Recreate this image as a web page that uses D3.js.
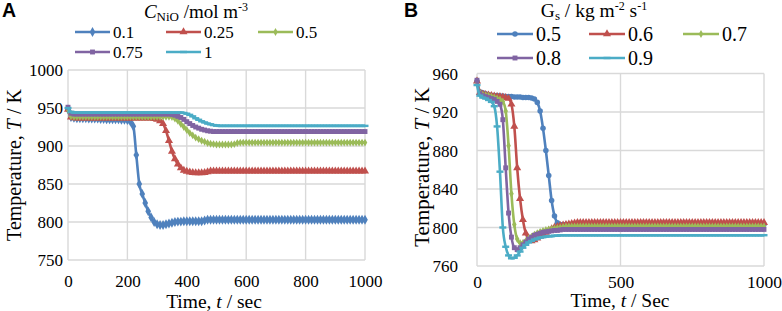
<!DOCTYPE html>
<html><head><meta charset="utf-8">
<script src="https://cdn.jsdelivr.net/npm/d3@7/dist/d3.min.js"></script>
<style>body{margin:0;background:#fff}svg{display:block}</style>
</head><body><svg id="c" width="782" height="311"></svg>
<script>
// time samples (s)
const timeSec = [0,10,20,30,40,50,60,70,80,90,100,110,120,130,140,150,160,170,180,190,200,210,220,230,240,250,260,270,280,290,300,310,320,330,340,350,360,370,380,390,400,410,420,430,440,450,460,470,480,490,500,510,520,530,540,550,560,570,580,590,600,610,620,630,640,650,660,670,680,690,700,710,720,730,740,750,760,770,780,790,800,810,820,830,840,850,860,870,880,890,900,910,920,930,940,950,960,970,980,990,1000];

// Panel A : C_NiO series
const namesA = ["0.1","0.25","0.5","0.75","1"];
const tempA01 = [948,938,937,936.5,936.5,936.5,936.5,936,936,936,
936,935.5,935.5,935,935,935,935,935,934.5,934.5,
934,932,926,888,850,837,825,814,806,800,
797,796,796,797,798,799,800,800.5,800.5,801,
801,801,801,801,801,801,802,803,803,803,
803,803,803,803,803,803,803,803,803,803,
803,803,803,803,803,803,803,803,803,803,
803,803,803,803,803,803,803,803,803,803,
803,803,803,803,803,803,803,803,803,803,
803,803,803,803,803,803,803,803,803,803,
803];
const tempA025 = [948,938,937,936.5,936.5,936.5,936.5,936.5,936.5,936.5,
936.5,936.5,936.5,936.5,936.5,936.5,936.5,936.5,936.5,936.5,
936.5,936.5,936.5,936.5,936.5,936.5,936.5,936.5,936.5,936,
935,933,929.5,920,907,893,883,876,871,868,
866.5,865.5,865,864.5,864.5,864.5,865,866,867,867,
867,867,867,867,867,867,867,867,867,867,
867,867,867,867,867,867,867,867,867,867,
867,867,867,867,867,867,867,867,867,867,
867,867,867,867,867,867,867,867,867,867,
867,867,867,867,867,867,867,867,867,867,
867];
const tempA05 = [948,939,938.5,938.5,938.5,938.5,938.5,938.5,938.5,938.5,
938.5,938.5,938.5,938.5,938.5,938.5,938.5,938.5,938.5,938.5,
938.5,938.5,938.5,938.5,938.5,938.5,938.5,938.5,938.5,938.5,
938.5,938.5,938.5,938.5,938.5,938,936,933,929,925,
921,917,914,911,909,907,905.5,904,903,902.5,
902,902,902,902,902,902,902.5,904,904.5,904.5,
904.5,904.5,904.5,904.5,904.5,904.5,904.5,904.5,904.5,904.5,
904.5,904.5,904.5,904.5,904.5,904.5,904.5,904.5,904.5,904.5,
904.5,904.5,904.5,904.5,904.5,904.5,904.5,904.5,904.5,904.5,
904.5,904.5,904.5,904.5,904.5,904.5,904.5,904.5,904.5,904.5,
904.5];
const tempA075 = [951,943,942,942,942,942,942,942,942,942,
942,942,942,942,942,942,942,942,942,942,
942,942,942,942,942,942,942,942,942,942,
942,942,942,942,942,941.5,940.5,939,937.5,935,
932,929.5,927,925,923.5,922,921,920,919.5,919,
919,919,919,919,919,919,919,919,919,919,
919,919,919,919,919,919,919,919,919,919,
919,919,919,919,919,919,919,919,919,919,
919,919,919,919,919,919,919,919,919,919,
919,919,919,919,919,919,919,919,919,919,
919];
const tempA1 = [950,945,944,944,944,944,944,944,944,944,
944,944,944,944,944,944,944,944,944,944,
944,944,944,944,944,944,944,944,944,944,
944,944,944,944,944,944,944,944,944,943.5,
942.5,941,939,936.5,934.5,932.5,931,929.5,928.5,927.5,
927,926.5,926.5,926.5,926.5,926.5,926.5,926.5,926.5,926.5,
926.5,926.5,926.5,926.5,926.5,926.5,926.5,926.5,926.5,926.5,
926.5,926.5,926.5,926.5,926.5,926.5,926.5,926.5,926.5,926.5,
926.5,926.5,926.5,926.5,926.5,926.5,926.5,926.5,926.5,926.5,
926.5,926.5,926.5,926.5,926.5,926.5,926.5,926.5,926.5,926.5,
926.5];

// Panel B : Gs series
const namesB = ["0.5","0.6","0.7","0.8","0.9"];
const tempB05 = [952,941,940,939,938,937.5,937,937,936.5,936.5,
936,936,936,935.5,935.5,935.5,935,935,935,934.5,
933.5,930,921,903,880,854,828,812,805,803,
803,803,803,803,803,803,803,803,803,803,
803,803,803,803,803,803,803,803,803,803,
803,803,803,803,803,803,803,803,803,803,
803,803,803,803,803,803,803,803,803,803,
803,803,803,803,803,803,803,803,803,803,
803,803,803,803,803,803,803,803,803,803,
803,803,803,803,803,803,803,803,803,803,
803];
const tempB06 = [952,940,938.5,938,937.5,937,936.5,936,936,935.5,
935,934,928,905,862,830,808,794,788,786,
787,789,791,793,795,797,798.5,800,801,802,
802.5,803,803.5,804,804.5,805,805,805,805,805,
805,805,805,805,805,805,805,805,805,805,
805,805,805,805,805,805,805,805,805,805,
805,805,805,805,805,805,805,805,805,805,
805,805,805,805,805,805,805,805,805,805,
805,805,805,805,805,805,805,805,805,805,
805,805,805,805,805,805,805,805,805,805,
805];
const tempB07 = [952,940,938,937.5,937,936,935,934,933,931,
921,885,835,803,788,784,784,786,788.5,790.5,
792.5,794,795.5,796.5,797.5,798,798.5,799,799.5,800,
800.5,801,801,801,801,801,801,801,801,801,
801,801,801,801,801,801,801,801,801,801,
801,801,801,801,801,801,801,801,801,801,
801,801,801,801,801,801,801,801,801,801,
801,801,801,801,801,801,801,801,801,801,
801,801,801,801,801,801,801,801,801,801,
801,801,801,801,801,801,801,801,801,801,
801];
const tempB08 = [953,939,937,936,935,934,933,931,928,912,
862,815,790,779,777,779,782,785,788,790,
792,793,794,795,795.5,796,796.5,797,797,797.5,
798,798,798,798,798,798,798,798,798,798,
798,798,798,798,798,798,798,798,798,798,
798,798,798,798,798,798,798,798,798,798,
798,798,798,798,798,798,798,798,798,798,
798,798,798,798,798,798,798,798,798,798,
798,798,798,798,798,798,798,798,798,798,
798,798,798,798,798,798,798,798,798,798,
798];
const tempB09 = [948,937,935,934,932.5,930.5,926,905,858,800,
780,771,768,768.5,771,775,779,782,784.5,786,
787.5,788.5,789.5,790,790.5,791,791,791.5,791.5,792,
792,792,792,792,792,792,792,792,792,792,
792,792,792,792,792,792,792,792,792,792,
792,792,792,792,792,792,792,792,792,792,
792,792,792,792,792,792,792,792,792,792,
792,792,792,792,792,792,792,792,792,792,
792,792,792,792,792,792,792,792,792,792,
792,792,792,792,792,792,792,792,792,792,
792];

// ticks
const xTicksA = [0,200,400,600,800,1000];
const yTicksA = [750,800,850,900,950,1000];
const xTicksB = [0,500,1000];
const yTicksB = [760,800,840,880,920,960];

const colors = ["#4F81BD","#C0504D","#9BBB59","#8064A2","#4BACC6"];
const SERIF = '"Liberation Serif", "Times New Roman", Times, serif';
const SANS = '"Liberation Sans", Arial, sans-serif';

const svg = d3.select("#c");

function markerPath(kind){
  switch(kind){
    case "diamond": return d3.symbol(d3.symbolDiamond, 28)();
    case "circle": return d3.symbol(d3.symbolCircle, 24)();
    case "triangle": return d3.symbol(d3.symbolTriangle, 28)();
    case "square": return d3.symbol(d3.symbolSquare, 24)();
    case "dot": return d3.symbol(d3.symbolDiamond, 18)();
    case "dash": return "M-3.5,-1.2h7v2.4h-7z";
  }
}

function txt(sel){ return sel.style("font-family", SERIF).attr("fill", "#000"); }

function drawPanel(cfg){
  const g = svg.append("g");
  const x = d3.scaleLinear().domain(cfg.xDomain).range([cfg.x0, cfg.x1]);
  const y = d3.scaleLinear().domain(cfg.yDomain).range([cfg.yb, cfg.yt]);
  g.selectAll(".hg").data(cfg.yTicks).join("line")
    .attr("x1", cfg.x0).attr("x2", cfg.x1)
    .attr("y1", d => y(d)).attr("y2", d => y(d))
    .attr("stroke", "#d9d9d9").attr("stroke-width", 1.4);
  g.selectAll(".vg").data(cfg.xTicks).join("line")
    .attr("y1", cfg.yt).attr("y2", cfg.yb)
    .attr("x1", d => x(d)).attr("x2", d => x(d))
    .attr("stroke", "#d9d9d9").attr("stroke-width", 1.4);

  const ya = g.append("g").attr("transform", `translate(${cfg.yLabelX},0)`)
    .call(d3.axisLeft(y).tickValues(cfg.yTicks).tickSize(0).tickPadding(0).tickFormat(d3.format("d")));
  ya.select(".domain").remove();
  txt(ya.selectAll("text")).style("font-size", cfg.yTickSize + "px").attr("dy", "0.34em");

  const xa = g.append("g").attr("transform", `translate(0,${cfg.xLabelY})`)
    .call(d3.axisBottom(x).tickValues(cfg.xTicks).tickSize(0).tickPadding(0).tickFormat(d3.format("d")));
  xa.select(".domain").remove();
  txt(xa.selectAll("text")).style("font-size", cfg.xTickSize + "px").attr("dy", 0).attr("y", 0);

  const line = d3.line().x((d, i) => x(timeSec[i])).y(d => y(d)).curve(d3.curveMonotoneX);
  cfg.series.forEach((s, k) => {
    g.append("path").attr("d", line(s.values)).attr("fill", "none")
      .attr("stroke", colors[k]).attr("stroke-width", 2.6).attr("stroke-linejoin", "round");
    g.append("g").selectAll("path").data(s.values).join("path")
      .attr("d", markerPath(s.marker))
      .attr("transform", (d, i) => `translate(${x(timeSec[i])},${y(d)})`)
      .attr("fill", colors[k]);
  });

  // axis titles
  const xt = txt(g.append("text")).attr("x", cfg.xTitleX).attr("y", cfg.xTitleY)
    .attr("text-anchor", "middle").style("font-size", cfg.xTitleSize + "px");
  xt.append("tspan").text("Time, ");
  xt.append("tspan").style("font-style", "italic").text("t");
  xt.append("tspan").text(cfg.xTitleUnit);
  const yt = txt(g.append("text")).attr("transform", `translate(${cfg.yTitleX},${cfg.yTitleY}) rotate(-90)`)
    .attr("text-anchor", "middle").style("font-size", cfg.yTitleSize + "px");
  yt.append("tspan").text("Temperature, ");
  yt.append("tspan").style("font-style", "italic").text("T");
  yt.append("tspan").text(" / K");

  // legend
  cfg.series.forEach((s, k) => {
    const p = cfg.legendPos[k];
    g.append("line").attr("x1", p[0]).attr("x2", p[0] + cfg.legLen).attr("y1", p[1]).attr("y2", p[1])
      .attr("stroke", colors[k]).attr("stroke-width", 2.6);
    g.append("path").attr("d", markerPath(s.marker))
      .attr("transform", `translate(${p[0] + cfg.legLen / 2},${p[1]})`).attr("fill", colors[k]);
    txt(g.append("text")).attr("x", p[0] + cfg.legLen + 3).attr("y", p[1] + cfg.legFont * 0.34)
      .style("font-size", cfg.legFont + "px").text(s.name);
  });

  // panel letter
  g.append("text").attr("x", cfg.letterX).attr("y", 17)
    .style("font-family", SANS).style("font-weight", "bold").style("font-size", "19.5px")
    .attr("fill", "#000").text(cfg.letter);
}

drawPanel({
  letter: "A", letterX: 2,
  xDomain: [0, 1000], yDomain: [750, 1000],
  x0: 68, x1: 365, yb: 260, yt: 70,
  xTicks: xTicksA, yTicks: yTicksA,
  yLabelX: 63, yTickSize: 17, xLabelY: 287, xTickSize: 17,
  xTitleX: 214, xTitleY: 308, xTitleSize: 19.5, xTitleUnit: " / sec",
  yTitleX: 21, yTitleY: 165, yTitleSize: 20,
  legLen: 35, legFont: 17,
  legendPos: [[75, 32], [166, 32], [258, 32], [75, 52], [166, 52]],
  series: [
    {name: namesA[0], values: tempA01, marker: "diamond"},
    {name: namesA[1], values: tempA025, marker: "triangle"},
    {name: namesA[2], values: tempA05, marker: "dot"},
    {name: namesA[3], values: tempA075, marker: "square"},
    {name: namesA[4], values: tempA1, marker: "dash"}
  ]
});

drawPanel({
  letter: "B", letterX: 404,
  xDomain: [0, 1000], yDomain: [760, 960],
  x0: 477, x1: 764, yb: 266, yt: 73.5,
  xTicks: xTicksB, yTicks: yTicksB,
  yLabelX: 458, yTickSize: 17, xLabelY: 288, xTickSize: 17.5,
  xTitleX: 620, xTitleY: 307, xTitleSize: 19.5, xTitleUnit: " / Sec",
  yTitleX: 429, yTitleY: 167, yTitleSize: 21,
  legLen: 36, legFont: 20,
  legendPos: [[497, 34], [589, 34], [683, 34], [497, 58], [589, 58]],
  series: [
    {name: namesB[0], values: tempB05, marker: "circle"},
    {name: namesB[1], values: tempB06, marker: "triangle"},
    {name: namesB[2], values: tempB07, marker: "dot"},
    {name: namesB[3], values: tempB08, marker: "square"},
    {name: namesB[4], values: tempB09, marker: "dash"}
  ]
});

// legend titles
const ltA = txt(svg.append("text")).attr("x", 196).attr("y", 18).attr("text-anchor", "middle").style("font-size", "19px");
ltA.append("tspan").style("font-style", "italic").text("C");
ltA.append("tspan").style("font-size", "13px").attr("dy", 3).text("NiO");
ltA.append("tspan").attr("dy", -3).text(" /mol m");
ltA.append("tspan").style("font-size", "12px").attr("dy", -7).text("-3");

const ltB = txt(svg.append("text")).attr("x", 594).attr("y", 17).attr("text-anchor", "middle").style("font-size", "19.5px");
ltB.append("tspan").text("G");
ltB.append("tspan").style("font-size", "13px").attr("dy", 3).text("s");
ltB.append("tspan").attr("dy", -3).text(" / kg m");
ltB.append("tspan").style("font-size", "12px").attr("dy", -7).text("-2");
ltB.append("tspan").attr("dy", 7).text(" s");
ltB.append("tspan").style("font-size", "12px").attr("dy", -7).text("-1");
</script></body></html>
